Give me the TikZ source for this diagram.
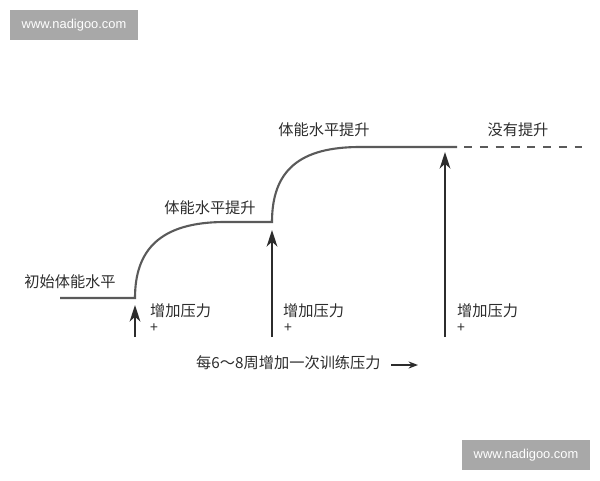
\documentclass[tikz,border=0pt]{standalone}
\usepackage{fontspec}
\newfontfamily\cjk{Noto Sans CJK SC}
\newfontfamily\webfont{Liberation Sans}
\usetikzlibrary{arrows.meta}
\definecolor{curvegray}{HTML}{5A5A5A}
\definecolor{inkgray}{HTML}{2C2C2C}
\definecolor{markgray}{HTML}{A8A8A8}
\tikzset{
  trend/.style={draw=curvegray, line width=1.8pt},
  push/.style={draw=inkgray, line width=2.4pt, -{Stealth[length=14pt,width=9pt,inset=4pt]}},
  caption/.style={font=\cjk\fontsize{13pt}{15pt}\selectfont, text=inkgray, inner sep=0pt},
  plussign/.style={font=\cjk\fontsize{12pt}{14pt}\selectfont, text=inkgray, inner sep=0pt},
  webmark/.style={fill=markgray, text=white, font=\webfont\fontsize{11pt}{13pt}\selectfont,
    minimum width=3.84cm, minimum height=0.9cm, inner sep=0pt}
}
\begin{document}
\begin{tikzpicture}[x=0.03cm,y=-0.03cm]
      \useasboundingbox (0,0) rectangle (600,480);
      \coordinate (start) at (60,298);
      \coordinate (step1) at (135,298);
      \coordinate (flat1) at (225,222);
      \coordinate (step2) at (272,222);
      \coordinate (flat2) at (360,147);
      \coordinate (stop) at (457,147);
      \coordinate (dash0) at (464,147);
      \coordinate (dash1) at (582,147);
      \draw[trend] (start) -- (step1)
        .. controls (135,250) and (160,222) .. (flat1) -- (step2)
        .. controls (272,170) and (300,147) .. (flat2) -- (stop);
      \draw[trend, dash pattern=on 7pt off 6.5pt] (dash0) -- (dash1);
      \begin{scope}[every node/.style=caption]
        \node (base) at (70,282) {初始体能水平};
        \node (up1) at (210,208) {体能水平提升};
        \node (up2) at (324,130) {体能水平提升};
        \node (none) at (518,130) {没有提升};
        \node[anchor=west] (load1) at (150,311) {增加压力};
        \node[anchor=west] (load2) at (283,311) {增加压力};
        \node[anchor=west] (load3) at (457,311) {增加压力};
        \node[anchor=west] (every) at (196,363) {每6～8周增加一次训练压力};
      \end{scope}
      \node[plussign] (p1) at (154,328) {+};
      \node[plussign] (p2) at (288,328) {+};
      \node[plussign] (p3) at (461,328) {+};
      \coordinate (a1) at (135,337);
      \coordinate (b1) at (135,305);
      \coordinate (a2) at (272,337);
      \coordinate (b2) at (272,230);
      \coordinate (a3) at (445,337);
      \coordinate (b3) at (445,152);
      \begin{scope}[push]
        \draw (a1) to (b1);
        \draw (a2) to (b2);
        \draw (a3) to (b3);
      \end{scope}
      \coordinate (t0) at (391,365);
      \coordinate (t1) at (418,365);
      \draw[draw=inkgray, line width=1.5pt, -{Stealth[length=8pt,width=6pt]}] (t0) -- (t1);
      \node[webmark] (web1) at (74,25) {www.nadigoo.com};
      \node[webmark] (web2) at (526,455) {www.nadigoo.com};
    \end{tikzpicture}
\end{document}
